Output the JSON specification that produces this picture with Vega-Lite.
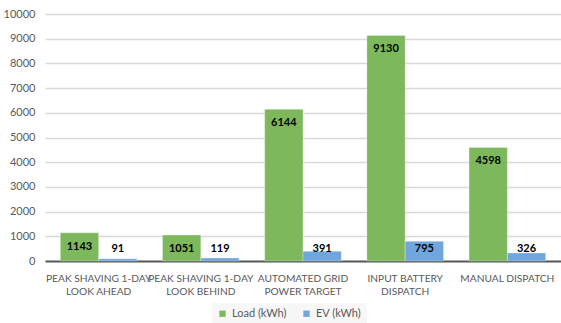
{
  "$schema": "https://vega.github.io/schema/vega-lite/v6.json",
  "autosize": "none",
  "width": 516,
  "height": 247,
  "padding": {"left": 45, "top": 14, "right": 0, "bottom": 62},
  "background": "white",
  "config": {
    "font": "Lato",
    "view": {"stroke": null},
    "axis": {"labelFont": "Lato", "labelFontSize": 10.2, "labelColor": "#595959"}
  },
  "data": {
    "values": [
      {"strategy": "PEAK SHAVING 1-DAY|LOOK AHEAD", "series": "Load (kWh)", "value": 1143},
      {"strategy": "PEAK SHAVING 1-DAY|LOOK AHEAD", "series": "EV (kWh)", "value": 91},
      {"strategy": "PEAK SHAVING 1-DAY|LOOK BEHIND", "series": "Load (kWh)", "value": 1051},
      {"strategy": "PEAK SHAVING 1-DAY|LOOK BEHIND", "series": "EV (kWh)", "value": 119},
      {"strategy": "AUTOMATED GRID|POWER TARGET", "series": "Load (kWh)", "value": 6144},
      {"strategy": "AUTOMATED GRID|POWER TARGET", "series": "EV (kWh)", "value": 391},
      {"strategy": "INPUT BATTERY|DISPATCH", "series": "Load (kWh)", "value": 9130},
      {"strategy": "INPUT BATTERY|DISPATCH", "series": "EV (kWh)", "value": 795},
      {"strategy": "MANUAL DISPATCH", "series": "Load (kWh)", "value": 4598},
      {"strategy": "MANUAL DISPATCH", "series": "EV (kWh)", "value": 326}
    ]
  },
  "encoding": {
    "x": {
      "field": "strategy",
      "type": "nominal",
      "sort": null,
      "scale": {"paddingInner": 0.25, "paddingOuter": 0.15},
      "axis": {
        "title": null,
        "labelAngle": 0,
        "labelExpr": "split(datum.label, '|')",
        "labelLineHeight": 13.5,
        "labelPadding": 12,
        "labelOverlap": false,
        "labelBound": false,
        "labelBaseline": "top",
        "ticks": false,
        "domain": true,
        "domainColor": "#595959",
        "domainWidth": 2,
        "grid": false
      }
    },
    "xOffset": {
      "field": "series",
      "type": "nominal",
      "sort": ["Load (kWh)", "EV (kWh)"],
      "scale": {"paddingInner": 0, "paddingOuter": 0}
    },
    "y": {
      "field": "value",
      "type": "quantitative",
      "scale": {"domain": [0, 10000], "nice": false},
      "axis": {
        "title": null,
        "values": [0, 1000, 2000, 3000, 4000, 5000, 6000, 7000, 8000, 9000, 10000],
        "tickCount": 12,
        "format": "d",
        "ticks": false,
        "domain": false,
        "labelPadding": 10,
        "labelOverlap": false,
        "labelFontSize": 11,
        "gridColor": "#d9d9d9",
        "gridWidth": 1.5
      }
    }
  },
  "layer": [
    {
      "mark": {"type": "bar", "stroke": "#ffffff", "strokeWidth": 0.6, "strokeOpacity": 0.5},
      "encoding": {
        "color": {
          "field": "series",
          "type": "nominal",
          "sort": ["Load (kWh)", "EV (kWh)"],
          "scale": {"domain": ["Load (kWh)", "EV (kWh)"], "range": ["#7db95c", "#6fa6dc"]},
          "legend": {
            "title": null,
            "orient": "none",
            "legendX": 167,
            "legendY": 289,
            "direction": "horizontal",
            "symbolType": "square",
            "symbolSize": 40,
            "symbolStrokeWidth": 0,
            "labelFontSize": 11,
            "labelColor": "#595959",
            "labelFont": "Lato",
            "fillColor": "#f7f7f7",
            "padding": 5,
            "columnPadding": 14
          }
        }
      }
    },
    {
      "transform": [{"filter": "datum.series === 'Load (kWh)'"}],
      "mark": {"type": "text", "dy": 14, "fontWeight": "bold", "fontSize": 11, "color": "#000000", "baseline": "middle"},
      "encoding": {
        "text": {"field": "value", "type": "quantitative", "format": "d"}
      }
    },
    {
      "transform": [{"filter": "datum.series === 'EV (kWh)'"}],
      "mark": {"type": "text", "dy": -12, "fontWeight": "bold", "fontSize": 11, "color": "#000000", "baseline": "middle"},
      "encoding": {
        "y": {
          "datum": 0,
          "type": "quantitative",
          "axis": {
            "title": null,
            "values": [0, 1000, 2000, 3000, 4000, 5000, 6000, 7000, 8000, 9000, 10000],
            "tickCount": 12,
            "format": "d",
            "ticks": false,
            "domain": false,
            "labelPadding": 10,
            "labelOverlap": false,
            "labelFontSize": 11,
            "gridColor": "#d9d9d9",
            "gridWidth": 1.5
          }
        },
        "text": {"field": "value", "type": "quantitative", "format": "d"}
      }
    }
  ]
}
